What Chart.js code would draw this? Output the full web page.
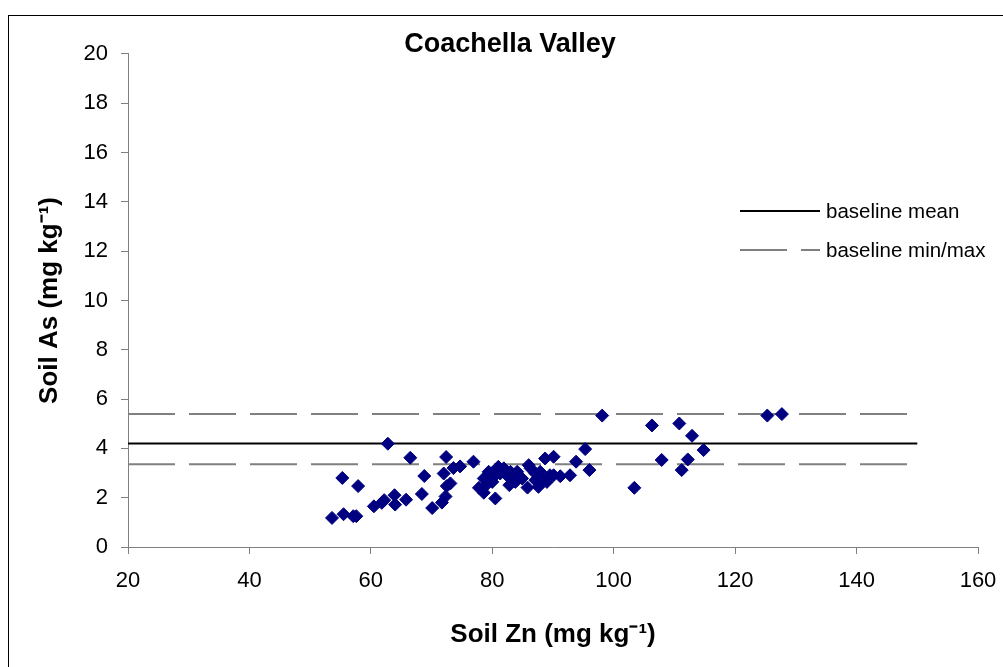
<!DOCTYPE html>
<html>
<head>
<meta charset="utf-8">
<script src="https://cdn.jsdelivr.net/npm/chart.js@4.4.0/dist/chart.umd.min.js"></script>
<style>
  html, body { margin: 0; padding: 0; background: #fff; }
  #wrap { position: relative; width: 1003px; height: 667px; overflow: hidden; }
  #frame { position: absolute; left: 8px; top: 15px; width: 1100px; height: 800px; border: 1px solid #000; box-sizing: border-box; }
  #box { position: absolute; left: 0; top: 0; width: 1003px; height: 667px; }
</style>
</head>
<body>
<div id="wrap">
  <div id="frame"></div>
  <div id="box"><canvas id="myChart"></canvas></div>
</div>
<script>
// soil Zn (x) and soil As (y), mg/kg
const soilZn = [53.6, 55.3, 55.5, 57.1, 57.6, 57.9, 60.5, 61.8, 62.2, 62.8,
  63.9, 64.0, 65.8, 66.5, 68.4, 68.8, 70.1, 71.7, 72.0, 72.3,
  72.4, 72.5, 73.1, 73.6, 74.7, 76.9, 77.8, 78.6, 78.6, 79.0,
  79.4, 80.0, 80.5, 80.5, 80.5, 81.0, 81.3, 81.9, 82.4, 82.8,
  83.0, 83.0, 83.5, 83.8, 84.1, 84.9, 85.8, 86.0, 86.3, 87.1,
  87.1, 87.6, 87.9, 88.2, 88.7, 89.0, 89.0, 89.5, 90.1, 90.1,
  91.2, 92.8, 93.8, 95.3, 96.0, 98.1, 103.4, 106.3, 107.9, 110.8,
  111.2, 112.2, 112.9, 114.8, 125.3, 127.7];
const soilAs = [1.18, 2.80, 1.33, 1.25, 1.25, 2.47, 1.65, 1.79, 1.90, 4.19,
  2.10, 1.72, 1.92, 3.62, 2.15, 2.88, 1.58, 1.80, 2.98, 2.05,
  3.65, 2.47, 2.58, 3.20, 3.27, 3.46, 2.40, 2.20, 2.78, 2.51,
  3.05, 2.64, 1.97, 2.91, 3.12, 3.25, 2.98, 3.19, 2.91, 2.51,
  3.05, 2.85, 2.71, 2.64, 3.05, 2.78, 2.41, 3.32, 3.19, 2.71,
  2.98, 2.44, 3.05, 2.71, 3.59, 2.64, 2.78, 2.91, 3.66, 2.91,
  2.87, 2.91, 3.46, 3.97, 3.12, 5.33, 2.40, 4.93, 3.53, 5.01,
  3.12, 3.55, 4.51, 3.93, 5.33, 5.39];

const baselineMean = 4.2;
const baselineMin = 3.36;
const baselineMax = 5.39;
const baselineFrom = 20;
const baselineTo = 150;

const xTicks = { min: 20, max: 160, step: 20 };
const yTicks = { min: 0, max: 20, step: 2 };

const FONT = "'Liberation Sans', Arial, sans-serif";

function hline(y) {
  return [{ x: baselineFrom, y: y }, { x: baselineTo, y: y }];
}

// legend drawn by hand on the right side of the plot, like the original
const sideLegend = {
  id: 'sideLegend',
  afterDraw(chart) {
    const ctx = chart.ctx;
    const items = chart.data.datasets.filter(d => d.inLegend);
    ctx.save();
    ctx.font = '20.5px ' + FONT;
    ctx.textBaseline = 'middle';
    ctx.fillStyle = '#000';
    items.forEach((d, i) => {
      const y = 211 + i * 39;
      ctx.beginPath();
      ctx.strokeStyle = d.borderColor;
      ctx.lineWidth = d.borderWidth;
      ctx.setLineDash(d.borderDash || []);
      ctx.moveTo(740, y);
      ctx.lineTo(820, y);
      ctx.stroke();
      ctx.setLineDash([]);
      ctx.fillText(d.label, 826, y + 1);
    });
    ctx.restore();
  }
};

var ctx = document.getElementById('myChart').getContext('2d');
var myChart = new Chart(ctx, {
  type: 'scatter',
  data: {
    datasets: [{
      label: 'Coachella Valley',
      data: soilZn.map((x, i) => ({ x: x, y: soilAs[i] })),
      pointStyle: 'rectRot',
      pointRadius: 6.5,
      backgroundColor: '#000080',
      borderColor: '#000080',
      borderWidth: 1
    }, {
      label: 'baseline mean',
      inLegend: true,
      data: hline(baselineMean),
      showLine: true,
      pointRadius: 0,
      borderColor: '#000000',
      borderWidth: 2
    }, {
      label: 'baseline min/max',
      inLegend: true,
      data: hline(baselineMin),
      showLine: true,
      pointRadius: 0,
      borderColor: '#808080',
      borderWidth: 2,
      borderDash: [47, 14]
    }, {
      label: 'baseline max',
      data: hline(baselineMax),
      showLine: true,
      pointRadius: 0,
      borderColor: '#808080',
      borderWidth: 2,
      borderDash: [47, 14]
    }]
  },
  options: {
    responsive: true,
    maintainAspectRatio: false,
    animation: false,
    layout: { padding: { left: 30, right: 13, top: 0, bottom: 0 } },
    plugins: {
      legend: { display: false },
      tooltip: { enabled: false },
      title: {
        display: true,
        text: 'Coachella Valley',
        color: '#000',
        font: { family: FONT, size: 27, weight: 'bold', lineHeight: 0.7 },
        padding: { top: 35, bottom: 0 }
      }
    },
    scales: {
      x: {
        type: 'linear',
        min: xTicks.min,
        max: xTicks.max,
        afterFit(scale) {
          scale.height = 120;
          scale.paddingLeft = 0;
          scale.paddingRight = 25;
        },
        ticks: {
          stepSize: xTicks.step,
          color: '#000',
          font: { family: FONT, size: 22 },
          padding: 14,
          maxRotation: 0
        },
        grid: { drawOnChartArea: false, drawTicks: true, tickLength: 7, color: '#808080' },
        border: { color: '#808080', width: 1 },
        title: {
          display: true,
          text: 'Soil Zn (mg kg\u207B\u00B9)',
          color: '#000',
          font: { family: FONT, size: 26, weight: 'bold' },
          padding: { top: 0, bottom: 17 }
        }
      },
      y: {
        type: 'linear',
        min: yTicks.min,
        max: yTicks.max,
        afterFit(scale) {
          scale.width = 98;
          scale.paddingTop = 0;
          scale.paddingBottom = 0;
        },
        ticks: {
          stepSize: yTicks.step,
          color: '#000',
          font: { family: FONT, size: 22 },
          padding: 13
        },
        grid: { drawOnChartArea: false, drawTicks: true, tickLength: 7, color: '#808080' },
        border: { color: '#808080', width: 1 },
        title: {
          display: true,
          text: 'Soil As (mg kg\u207B\u00B9)',
          color: '#000',
          font: { family: FONT, size: 26, weight: 'bold' },
          padding: { top: 4, bottom: 0 }
        }
      }
    }
  },
  plugins: [sideLegend]
});
</script>
</body>
</html>
